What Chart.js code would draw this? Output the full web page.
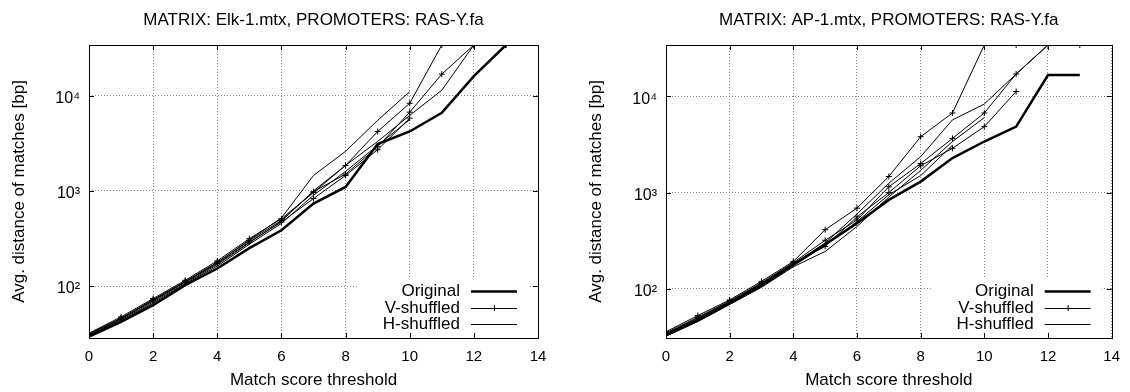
<!DOCTYPE html>
<html>
<head>
<meta charset="utf-8">
<script src="https://cdn.jsdelivr.net/npm/chart.js@4.4.0/dist/chart.umd.min.js"></script>
<style>
  html, body { margin: 0; padding: 0; background: #fff; }
  #wrap { position: relative; width: 1130px; height: 392px; overflow: hidden; }
  .panel { position: absolute; top: 0; height: 392px; }
</style>
</head>
<body>
<div id="wrap">
  <div class="panel" style="left:0;width:565px"><canvas id="elkChart" width="565" height="392"></canvas></div>
  <div class="panel" style="left:577px;width:553px"><canvas id="apChart" width="553" height="392"></canvas></div>
</div>
<script>
// match score thresholds
const xValues = [0, 1, 2, 3, 4, 5, 6, 7, 8, 9, 10, 11, 12, 13];
const yTicks = [100, 1000, 10000];
const yTickLabels = ['10²', '10³', '10⁴'];
const legendLabels = ['Original', 'V-shuffled', 'H-shuffled'];

// MATRIX: Elk-1.mtx
const elkOriginal = [29.5, 42, 63, 102, 153, 250, 386, 736, 1100, 3100, 4200, 6600, 16000, 34000];
const elkV1 = [32, 47.5, 74, 115, 184, 315, 510, 960, 1850, 4200, 8300, 34000, 34000, 34000];
const elkV2 = [31, 46, 72, 112, 178, 300, 490, 980, 1500, 2900, 6700, 16800, 34000, 34000];
const elkV3 = [30.5, 45, 70, 110, 172, 290, 470, 830, 1450, 2700, 5800, null, null, null];
const elkH1 = [31.5, 46, 71, 111, 176, 305, 520, 1450, 2600, 5500, 11000, null, null, null];
const elkH2 = [30, 44, 68, 107, 168, 285, 480, 1000, 1850, 3300, 6200, 11400, 34000, null];
const elkH3 = [29.8, 43, 66, 105, 162, 275, 455, 900, 1600, 3000, 5600, null, null, null];

// MATRIX: AP-1.mtx
const apOriginal = [33, 47, 71, 108, 178, 290, 480, 840, 1300, 2280, 3390, 4840, 16600, 16600];
const apV1 = [36, 53, 77, 120, 193, 412, 690, 1470, 3800, 6700, 34000, 34000, null, null];
const apV2 = [34, 50, 74, 114, 185, 276, 560, 1000, 1900, 2880, 4840, 11200, null, null];
const apV3 = [35, 51, 75, 116, 188, 320, 520, 1150, 2000, 3650, 6700, 17000, 34000, 34000];
const apH1 = [34.5, 49, 73, 112, 182, 300, 600, 1250, 2360, 5680, 8300, 17000, 34000, 34000];
const apH2 = [32.5, 46, 69, 104, 170, 245, 445, 900, 1700, 3390, 6000, null, null, null];
const apH3 = [33.5, 48, 72, 110, 176, 285, 500, 950, 1500, 3100, null, null, null, null];

Chart.defaults.font.family = "'Liberation Sans', Arial, sans-serif";
Chart.defaults.color = '#000';

function toPoints(values) {
    return xValues.map((x, i) => ({ x: x, y: values[i] })).filter(p => p.y !== null);
}

function originalSet(values) {
    return { label: legendLabels[0], data: toPoints(values), borderColor: '#000', borderWidth: 2.5, pointRadius: 0 };
}
function vSet(values) {
    return { label: legendLabels[1], data: toPoints(values), borderColor: '#000', borderWidth: 1,
        pointStyle: 'cross', pointRadius: 3, pointBorderWidth: 1, pointBorderColor: '#000' };
}
function hSet(values) {
    return { label: legendLabels[2], data: toPoints(values), borderColor: '#000', borderWidth: 1, pointRadius: 0 };
}

// gnuplot-like frame, inward ticks and key in the lower right corner
const gnuFrame = {
    id: 'gnuFrame',
    beforeDatasetsDraw(chart) {
        const a = chart.chartArea, ctx = chart.ctx;
        ctx.save();
        ctx.fillStyle = '#fff';
        ctx.fillRect(a.right - 181, a.bottom - 59, 171, 59);
        ctx.restore();
    },
    afterDatasetsDraw(chart) {
        const a = chart.chartArea, ctx = chart.ctx;
        const xs = chart.scales.x, ys = chart.scales.y;
        ctx.save();
        ctx.strokeStyle = '#000';
        ctx.lineWidth = 1;
        ctx.strokeRect(Math.round(a.left) + 0.5, Math.round(a.top) + 0.5,
            Math.round(a.right - a.left), Math.round(a.bottom - a.top));
        ctx.beginPath();
        xs.ticks.forEach(t => {
            const px = Math.round(xs.getPixelForValue(t.value)) + 0.5;
            ctx.moveTo(px, a.bottom); ctx.lineTo(px, a.bottom - 5);
            ctx.moveTo(px, a.top); ctx.lineTo(px, a.top + 5);
        });
        ys.ticks.forEach(t => {
            const py = Math.round(ys.getPixelForValue(t.value)) + 0.5;
            ctx.moveTo(a.left, py); ctx.lineTo(a.left + 5, py);
            ctx.moveTo(a.right, py); ctx.lineTo(a.right - 5, py);
        });
        ctx.stroke();

        const rows = [47, 30, 14];
        const widths = [2.5, 1, 1];
        ctx.font = "17px 'Liberation Sans', Arial, sans-serif";
        ctx.fillStyle = '#000';
        ctx.textAlign = 'right';
        ctx.textBaseline = 'middle';
        legendLabels.forEach((label, i) => {
            const y = a.bottom - rows[i];
            ctx.fillText(label, a.right - 78, y);
            ctx.beginPath();
            ctx.lineWidth = widths[i];
            ctx.moveTo(a.right - 67, y + 0.5);
            ctx.lineTo(a.right - 21, y + 0.5);
            ctx.stroke();
            if (i === 1) {
                ctx.lineWidth = 1;
                ctx.beginPath();
                ctx.moveTo(a.right - 47, y + 0.5); ctx.lineTo(a.right - 41, y + 0.5);
                ctx.moveTo(a.right - 43.5, y - 3); ctx.lineTo(a.right - 43.5, y + 3);
                ctx.stroke();
            }
        });
        ctx.restore();
    }
};

function makeChart(canvasId, titleText, datasets, yMin, yMax, padRight) {
    const ctx = document.getElementById(canvasId).getContext('2d');
    return new Chart(ctx, {
        type: 'line',
        data: { datasets: datasets },
        plugins: [gnuFrame],
        options: {
            responsive: false,
            animation: false,
            layout: { padding: { left: 0, right: padRight, top: 0, bottom: 0 } },
            plugins: {
                legend: { display: false },
                tooltip: { enabled: false },
                title: {
                    display: true,
                    text: titleText,
                    fullSize: false,
                    color: '#000',
                    font: { size: 17, weight: 'normal' },
                    padding: { top: 10, bottom: 14.6 }
                }
            },
            scales: {
                x: {
                    type: 'linear',
                    min: 0,
                    max: 14,
                    afterFit: (scale) => { scale.height = 54; },
                    ticks: { stepSize: 2, padding: 10, font: { size: 15 }, color: '#000' },
                    grid: { color: '#808080', lineWidth: 1, drawTicks: false },
                    border: { display: false, dash: [1, 2] },
                    title: { display: true, text: 'Match score threshold', font: { size: 17 },
                        color: '#000', padding: { top: 0, bottom: 1 } }
                },
                y: {
                    type: 'logarithmic',
                    min: yMin,
                    max: yMax,
                    afterFit: (scale) => { scale.width = 89; },
                    afterBuildTicks: (scale) => { scale.ticks = yTicks.map(v => ({ value: v })); },
                    ticks: { padding: 9, labelOffset: 3, font: { size: 16 }, color: '#000',
                        callback: (value) => yTickLabels[yTicks.indexOf(value)] },
                    grid: { color: '#808080', lineWidth: 1, drawTicks: false },
                    border: { display: false, dash: [1, 2] },
                    title: { display: true, text: 'Avg. distance of matches [bp]', font: { size: 17 },
                        color: '#000', padding: { top: 9, bottom: 0 } }
                }
            }
        }
    });
}

makeChart('elkChart', 'MATRIX: Elk-1.mtx, PROMOTERS: RAS-Y.fa',
    [originalSet(elkOriginal), vSet(elkV1), vSet(elkV2), vSet(elkV3), hSet(elkH1), hSet(elkH2), hSet(elkH3)],
    28.5, 34000, 27);
makeChart('apChart', 'MATRIX: AP-1.mtx, PROMOTERS: RAS-Y.fa',
    [originalSet(apOriginal), vSet(apV1), vSet(apV2), vSet(apV3), hSet(apH1), hSet(apH2), hSet(apH3)],
    31, 34000, 15);
</script>
</body>
</html>
